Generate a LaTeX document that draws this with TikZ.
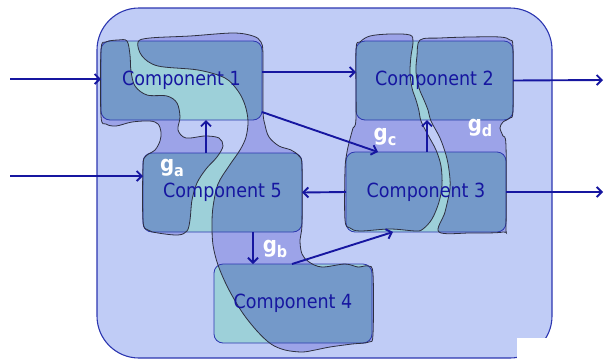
\documentclass[tikz,border=0pt]{standalone}
\usepackage{fontspec}
\usetikzlibrary{arrows.meta}
\newfontfamily\compfont[FakeStretch=0.9]{DejaVu Sans}

\definecolor{bgfill}{HTML}{C0CCF6}
\definecolor{gapfill}{HTML}{9CA3E8}
\definecolor{tealfill}{HTML}{9DD0D9}
\definecolor{darkfill}{HTML}{7499C9}
\definecolor{ink}{HTML}{1616A0}
\definecolor{frameline}{HTML}{2C36B0}
\definecolor{blobline}{HTML}{2E3040}

% outlines of the overlapping regions
\def\blobLA{plot[smooth cycle, tension=0.55] coordinates {
 (101,50) (106,42) (118,40) (127,41) (130,55) (131,71) (135,86) (147,95)
 (167,96) (177,103) (180,117) (178,130) (186,138) (205,136) (219,138)
 (223,146) (217,157) (206,169) (197,183) (192,200) (190,220) (187,231)
 (178,235) (158,233) (148,230) (143,221) (143,166) (146,156) (155,150)
 (160,141) (161,132) (158,124) (150,121) (132,122) (116,126) (106,124)
 (101,116)}}
\def\blobRA{plot[smooth cycle, tension=0.55] coordinates {
 (138,42) (150,38) (190,36) (233,33) (253,36) (261,42) (263,55) (263,110)
 (265,125) (269,137) (279,146) (291,150) (299,156) (302,166) (302,224)
 (300,240) (302,254) (309,262) (322,267) (345,264) (358,267) (368,266)
 (373,274) (373,334) (369,342) (352,344) (330,347) (315,350) (302,352)
 (285,350) (271,344) (257,331) (242,312) (228,288) (218,265) (213,245)
 (212,225) (213,207) (218,184) (229,166) (240,150) (246,137) (248,121)
 (245,105) (238,91) (225,78) (198,70) (158,66) (142,56)}}
\def\blobLB{plot[smooth cycle, tension=0.55] coordinates {
 (356,50) (360,42) (370,36) (390,34) (410,35) (413,42) (411,56) (410,72)
 (412,88) (416,100) (419,111) (421,121) (428,135) (436,150) (441,166)
 (442,185) (439,202) (432,219) (423,229) (416,231) (390,229) (360,231)
 (350,228) (345,220) (345,170) (347,152) (350,139) (353,128) (356,118)}}
\def\blobRB{plot[smooth cycle, tension=0.55] coordinates {
 (420,40) (440,38) (470,37) (500,37) (510,40) (513,48) (513,110) (510,118)
 (503,122) (500,128) (503,136) (506,146) (506,225) (503,232) (470,233)
 (439,232) (445,212) (450,188) (449,170) (446,155) (440,138) (431,121)
 (428,110) (424,100) (419,88) (416,72) (417,56)}}

\begin{document}
\begin{tikzpicture}[x=1pt,y=-1pt,
  container/.style={rectangle, rounded corners=42pt, inner sep=0pt, outer sep=0pt,
    fill=bgfill, draw=frameline, line width=1.1pt},
  compbox/.style={rectangle, rounded corners=9pt, inner sep=0pt, outer sep=0pt,
    fill=tealfill},
  boxline/.style={draw=frameline, line width=0.8pt, rounded corners=9pt},
  blobedge/.style={draw=blobline, line width=0.8pt},
  comptext/.style={text=ink, font=\compfont\fontsize{19.5}{22}\selectfont, inner sep=0pt},
  gaptext/.style={text=white, font=\compfont\bfseries\fontsize{22}{24}\selectfont, inner sep=0pt},
  arr/.style={draw=ink, line width=1.9pt, -{Straight Barb[length=5pt,width=10pt]}}]
\useasboundingbox (0,0) rectangle (605,360);

% enclosing system
\node[container, minimum width=455pt, minimum height=350pt] (sys) at (324.5,183) {};

% overlap regions outside the components
\fill[gapfill] \blobLA;
\fill[gapfill] \blobRA;
\fill[gapfill] \blobLB;
\fill[gapfill] \blobRB;

% components
\node[compbox, minimum width=161pt, minimum height=79pt] (c1) at (181.5,80.5) {};
\node[compbox, minimum width=157pt, minimum height=79pt] (c2) at (434.5,80.5) {};
\node[compbox, minimum width=160pt, minimum height=80pt] (c3) at (426,192) {};
\node[compbox, minimum width=158pt, minimum height=79pt] (c4) at (293,303.5) {};
\node[compbox, minimum width=159pt, minimum height=79pt] (c5) at (222.5,192.5) {};

% overlap regions inside the components
\begin{scope}
  \clip[rounded corners=9pt]
    (c1.north west) rectangle (c1.south east)
    (c2.north west) rectangle (c2.south east)
    (c3.north west) rectangle (c3.south east)
    (c4.north west) rectangle (c4.south east)
    (c5.north west) rectangle (c5.south east);
  \fill[darkfill] \blobLA;
  \fill[darkfill] \blobRA;
  \fill[darkfill] \blobLB;
  \fill[darkfill] \blobRB;
\end{scope}

% component borders
\foreach \c in {c1,c2,c3,c4,c5}
  \draw[boxline] (\c.north west) rectangle (\c.south east);

% region borders
\draw[blobedge] \blobLA;
\draw[blobedge] \blobRA;
\draw[blobedge] \blobLB;
\draw[blobedge] \blobRB;

% component names
\node[comptext] (t1) at (c1) {Component 1};
\node[comptext] (t2) at (c2) {Component 2};
\node[comptext] (t3) at (c3) {Component 3};
\node[comptext] (t4) at (c4) {Component 4};
\node[comptext] (t5) at (c5) {Component 5};

% external ends
\coordinate (in1) at (10,79);
\coordinate (in2) at (10,176);
\coordinate (out2) at (603,80);
\coordinate (out3) at (603,192);

% connectors
\draw[arr] (in1) -- (c1.west |- in1);
\draw[arr] (in2) -- (c5.west |- in2);
\draw[arr] ([yshift=8.5pt]c1.east) -- ([yshift=8.5pt]c2.west);
\draw[arr] ([yshift=-31.5pt]c1.east) -- ([xshift=-48pt]c3.north);
\draw[arr] ([xshift=-16.5pt]c5.north) -- ([xshift=-16.5pt]c5.north |- c1.south);
\draw[arr] ([xshift=1pt]c3.north) -- ([xshift=1pt]c3.north |- c2.south);
\draw[arr] (c3.west) -- (c5.east);
\draw[arr] ([xshift=30.5pt]c5.south) -- ([xshift=30.5pt]c5.south |- c4.north);
\draw[arr] ([xshift=-1pt]c4.north) -- ([xshift=-33pt]c3.south);
\draw[arr] (c2.east) -- (out2);
\draw[arr] (c3.east) -- (out3);

% interface labels
\node[gaptext] (ga) at (172,168) {g\raisebox{-5pt}{\fontsize{16}{16}\selectfont a}};
\node[gaptext] (gb) at (275,249) {g\raisebox{-5pt}{\fontsize{16}{16}\selectfont b}};
\node[gaptext] (gc) at (385,137) {g\raisebox{-5pt}{\fontsize{16}{16}\selectfont c}};
\node[gaptext] (gd) at (480,128) {g\raisebox{-5pt}{\fontsize{16}{16}\selectfont d}};

% blank patch over the lower right corner
\fill[white] (517,338) rectangle (605,360);
\end{tikzpicture}
\end{document}
